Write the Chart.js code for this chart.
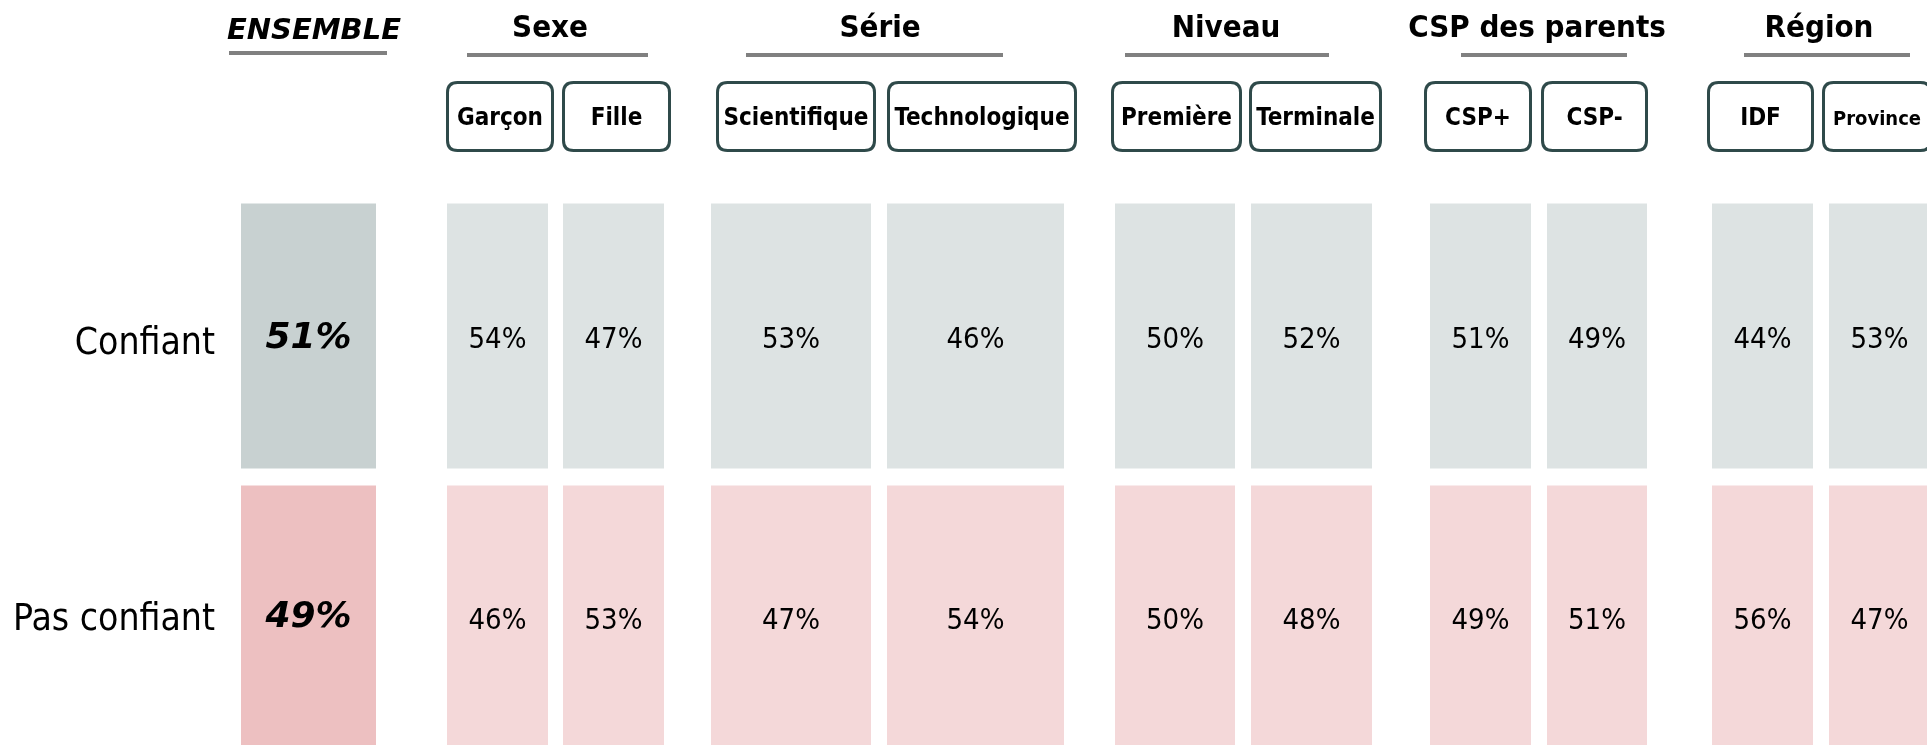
<!DOCTYPE html>
<html lang="fr">
<head>
    <meta charset="UTF-8">
    <title>Confiance - tableau par profil</title>
    <script src="https://cdn.jsdelivr.net/npm/chart.js"></script>
    <style>
        body {
            margin: 0;
            background: #ffffff;
            overflow: hidden;
        }
        .chart-box {
            position: relative;
            width: 1927px;
            height: 759px;
        }
    </style>
</head>
<body>
    <div class="chart-box">
        <canvas id="tableChart"></canvas>
    </div>

    <script>
        // Données
        const rowLabels = ['Confiant', 'Pas confiant'];
        const columnLabels = ['ENSEMBLE', 'Garçon', 'Fille', 'Scientifique', 'Technologique', 'Première', 'Terminale', 'CSP+', 'CSP-', 'IDF', 'Province'];
        const confiantValues = [51, 54, 47, 53, 46, 50, 52, 51, 49, 44, 53];
        const pasConfiantValues = [49, 46, 53, 47, 54, 50, 48, 49, 51, 56, 47];
        const groupTitles = ['ENSEMBLE', 'Sexe', 'Série', 'Niveau', 'CSP des parents', 'Région'];

        // Mise en page (unités de l'axe x, 0..1927)
        const cellSpans = [[241, 376], [447, 548], [563, 664], [711, 871], [887, 1064], [1115, 1235], [1251, 1372], [1430, 1531], [1547, 1647], [1712, 1813], [1829, 1930]];
        const boxSpans = [null, [446, 554], [562, 671], [716, 876], [887, 1077], [1111, 1242], [1249, 1382], [1424, 1532], [1541, 1648], [1707, 1814], [1822, 1932]];
        const titleCenters = [314, 550, 880, 1226, 1537, 1819];
        const underlineSpans = [[229, 387], [467, 648], [746, 1003], [1125, 1329], [1461, 1627], [1744, 1910]];
        const rowTextShift = [8, 2];

        const FONT = "'DejaVu Sans Condensed', 'DejaVu Sans', sans-serif";
        const colors = {
            ensTop: '#c8d1d1', ensBottom: '#edc0c1',
            top: '#dde3e3', bottom: '#f4d8d9',
            boxBorder: '#2f4a4a', underline: '#808080'
        };

        function roundRect(ctx, x, y, w, h, r) {
            ctx.beginPath();
            ctx.moveTo(x + r, y);
            ctx.lineTo(x + w - r, y);
            ctx.quadraticCurveTo(x + w, y, x + w, y + r);
            ctx.lineTo(x + w, y + h - r);
            ctx.quadraticCurveTo(x + w, y + h, x + w - r, y + h);
            ctx.lineTo(x + r, y + h);
            ctx.quadraticCurveTo(x, y + h, x, y + h - r);
            ctx.lineTo(x, y + r);
            ctx.quadraticCurveTo(x, y, x + r, y);
            ctx.closePath();
        }

        // Titres, boîtes, libellés et valeurs
        const tableText = {
            id: 'tableText',
            afterDatasetsDraw(chart) {
                const ctx = chart.ctx;
                const x = chart.scales.x;
                const y = chart.scales.y;
                ctx.save();

                // titres de groupe + soulignement
                groupTitles.forEach((t, i) => {
                    ctx.fillStyle = '#000';
                    ctx.textAlign = 'center';
                    ctx.textBaseline = 'alphabetic';
                    if (i === 0) {
                        ctx.font = "italic bold 29px 'DejaVu Sans', sans-serif";
                        ctx.fillText(t, x.getPixelForValue(titleCenters[i]), 39);
                    } else {
                        ctx.font = 'bold 31px ' + FONT;
                        ctx.fillText(t, x.getPixelForValue(titleCenters[i]), 37);
                    }
                    const u = underlineSpans[i];
                    const x0 = x.getPixelForValue(u[0]);
                    const x1 = x.getPixelForValue(u[1]);
                    ctx.fillStyle = colors.underline;
                    ctx.fillRect(x0, i === 0 ? 51 : 53, x1 - x0, 4);
                });

                // boîtes des sous-catégories
                columnLabels.forEach((label, i) => {
                    const b = boxSpans[i];
                    if (!b) return;
                    const x0 = x.getPixelForValue(b[0]);
                    const x1 = x.getPixelForValue(b[1]);
                    ctx.lineWidth = 3;
                    ctx.strokeStyle = colors.boxBorder;
                    ctx.fillStyle = '#fff';
                    roundRect(ctx, x0 + 1.5, 82.5, x1 - x0 - 3, 68, 10);
                    ctx.fill();
                    ctx.stroke();
                    ctx.fillStyle = '#000';
                    ctx.textAlign = 'center';
                    ctx.textBaseline = 'alphabetic';
                    ctx.font = 'bold ' + (label === 'Province' ? 20 : 24) + 'px ' + FONT;
                    ctx.fillText(label, (x0 + x1) / 2, 125);
                });

                // libellés des lignes
                ctx.font = '37px ' + FONT;
                ctx.textAlign = 'right';
                ctx.textBaseline = 'middle';
                ctx.fillStyle = '#000';
                rowLabels.forEach((r, j) => {
                    ctx.fillText(r, 215, y.getPixelForValue(j) + rowTextShift[j]);
                });

                // valeurs
                const rows = [confiantValues, pasConfiantValues];
                rows.forEach((vals, j) => {
                    const cy = y.getPixelForValue(j);
                    vals.forEach((v, i) => {
                        const s = cellSpans[i];
                        const cx = (x.getPixelForValue(s[0]) + x.getPixelForValue(s[1])) / 2;
                        ctx.textAlign = 'center';
                        ctx.textBaseline = 'middle';
                        if (i === 0) {
                            ctx.font = "italic bold 36px 'DejaVu Sans', sans-serif";
                            ctx.fillText(v + '%', cx, cy + (j === 0 ? 3 : 0));
                        } else {
                            ctx.font = '29px ' + FONT;
                            ctx.fillText(v + '%', cx, cy + (j === 0 ? 4 : 3));
                        }
                    });
                });
                ctx.restore();
            }
        };

        const datasets = columnLabels.map((label, i) => ({
            label: label,
            data: [cellSpans[i], cellSpans[i]],
            backgroundColor: i === 0 ? [colors.ensTop, colors.ensBottom] : [colors.top, colors.bottom],
            borderWidth: 0,
            grouped: false,
            barPercentage: 0.94,
            categoryPercentage: 1
        }));

        new Chart(document.getElementById('tableChart'), {
            type: 'bar',
            data: { labels: rowLabels, datasets: datasets },
            options: {
                indexAxis: 'y',
                responsive: true,
                maintainAspectRatio: false,
                animation: false,
                layout: { padding: { top: 195, left: 0, right: 0, bottom: 0 } },
                scales: {
                    x: { type: 'linear', min: 0, max: 1927, display: false },
                    y: { display: false }
                },
                plugins: {
                    legend: { display: false },
                    tooltip: { enabled: false }
                }
            },
            plugins: [tableText]
        });
    </script>
</body>
</html>
